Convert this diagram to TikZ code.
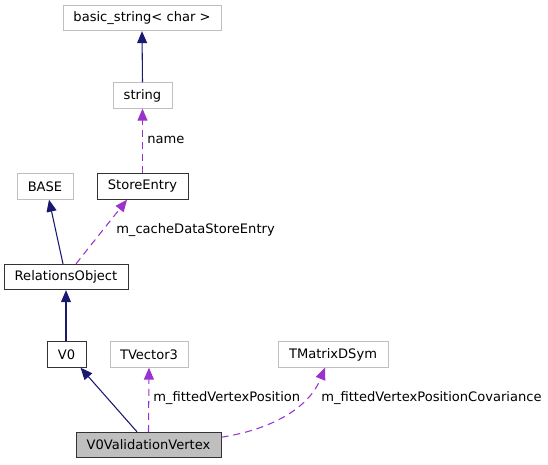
\documentclass[tikz,border=0pt]{standalone}
\usepackage{fontspec}
\setmainfont{DejaVu Sans}
\usetikzlibrary{arrows.meta}
\definecolor{navyc}{HTML}{191970}
\definecolor{purp}{HTML}{9A32CD}
\definecolor{grayb}{HTML}{BFBFBF}
\begin{document}
\begin{tikzpicture}[x=0.75pt,y=-0.75pt,
  box/.style={draw=grayb,line width=0.75pt,fill=white,minimum height=19pt,inner sep=0pt,font=\fontsize{9.8pt}{11pt}\selectfont},
  bbox/.style={box,draw=black!80},
  inh/.style={draw=navyc,line width=0.8pt,-{Triangle[length=9pt,width=7.5pt]}},
  use/.style={draw=purp,line width=0.8pt,dash pattern=on 5.25pt off 3.75pt,-{Triangle[length=9pt,width=7.5pt]}},
  lab/.style={font=\fontsize{9.8pt}{11pt}\selectfont,inner sep=0pt,anchor=west}]
\useasboundingbox (0,0) rectangle (548,464);
\node[box,minimum width=118.5pt] (bs) at (142,18) {basic\_string< char >};
\node[box,minimum width=44.25pt] (str) at (142.5,95.5) {string};
\node[box,minimum width=42pt] (base) at (45,186.5) {BASE};
\node[bbox,minimum width=68.25pt] (se) at (142.5,186.5) {StoreEntry};
\node[bbox,minimum width=93pt] (ro) at (66,277) {RelationsObject};
\node[bbox,minimum width=29.25pt] (v0) at (66.5,354.5) {V0};
\node[box,minimum width=58.5pt] (tv) at (149,354.5) {TVector3};
\node[box,minimum width=82.5pt] (tm) at (333,354.5) {TMatrixDSym};
\node[bbox,fill=grayb,minimum width=108.75pt] (vv) at (148.5,445) {V0ValidationVertex};

\draw[inh] (str.north) -- (bs.south);
\draw[use] (se.north) -- (str.south);
\node[lab] (l1) at (147,140) {name};
\draw[inh] ([xshift=-2.25pt]ro.north) -- ([xshift=3pt]base.south);
\draw[use] ([xshift=7.5pt]ro.north) -- ([xshift=-11.6pt]se.south);
\node[lab] (l2) at (116,230) {m\_cacheDataStoreEntry};
\draw[inh] (v0.north -| ro.north) -- (ro.south);
\draw[inh] ([xshift=-8.6pt]vv.north) -- ([xshift=-4.5pt]v0.south east);
\draw[use] (vv.north) -- (tv.south);
\node[lab] (l3) at (153,398) {m\_fittedVertexPosition};
\draw[use] ([yshift=-4pt]vv.north east) .. controls (268,430) and (308,410) .. ([xshift=-6pt]tm.south);
\node[lab] (l4) at (321,398) {m\_fittedVertexPositionCovariance};
\end{tikzpicture}
\end{document}
